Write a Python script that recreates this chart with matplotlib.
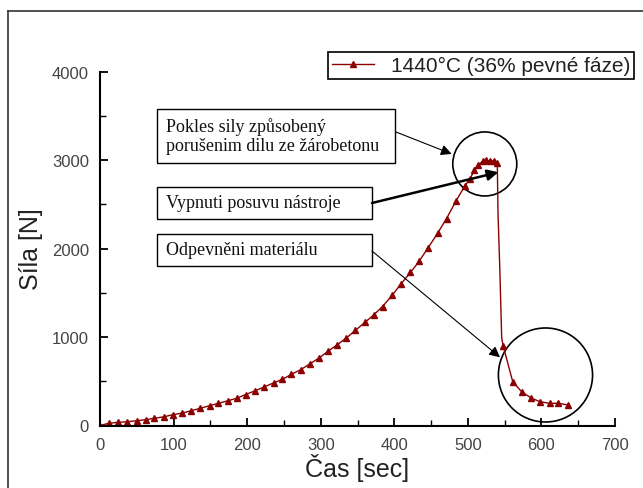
import numpy as np
import matplotlib
matplotlib.use("Agg")
import matplotlib.pyplot as plt
from matplotlib.lines import Line2D
from matplotlib.patches import Ellipse, Rectangle

plt.rcParams["font.family"] = ["Liberation Sans", "DejaVu Sans"]

# measured force vs. time, 1440 °C run (36 % solid phase)
cas = [0, 12, 25, 37, 50, 62, 74, 87, 99, 112, 124, 136, 149, 161, 174, 186,
       198, 211, 223, 236, 248, 260, 273, 285, 298, 310, 322, 335, 347, 360,
       372, 384, 397, 409, 422, 434, 446, 459, 471, 484, 496,
       503, 509, 514, 520, 525, 530, 535, 540,
       541, 543.5, 546,
       548, 561, 573, 586, 598, 611, 623, 636]
sila = [0, 25, 36, 43, 54, 66, 81, 99, 122, 141, 167, 194, 224, 251, 280, 308,
        350, 393, 435, 482, 522, 578, 632, 695, 765, 840, 910, 990, 1075, 1165,
        1250, 1345, 1470, 1600, 1730, 1860, 2010, 2175, 2340, 2540, 2710,
        2790, 2890, 2950, 2985, 3005, 2985, 2995, 2965,
        2400, 1750, 990,
        900, 495, 382, 311, 269, 251, 251, 232]
# samples on the sudden drop are drawn without a marker
bez_znacky = [49, 50, 51]
znacky = [i for i in range(len(cas)) if i not in bez_znacky]

popis = "1440°C (36% pevné fáze)"
texty = ["Pokles sily způsobený\nporušenim dilu ze žárobetonu",
         "Vypnuti posuvu nástroje",
         "Odpevněni materiálu"]

W, H = 643, 489
fig = plt.figure(figsize=(W / 100, H / 100), dpi=100)
ax = fig.add_axes([100 / W, 1 - 426.5 / H, 515 / W, 353.8 / H])

barva = "#8b0000"
ax.plot(cas, sila, color=barva, lw=1.0, marker="^", markersize=5,
        markevery=znacky)

ax.set_xlim(0, 700)
ax.set_ylim(0, 4000)
ax.set_xticks(np.arange(0, 701, 100))
ax.set_xticks(np.arange(0, 701, 50), minor=True)
ax.set_yticks(np.arange(0, 4001, 1000))
ax.set_yticks(np.arange(0, 4001, 500), minor=True)
ax.spines["top"].set_visible(False)
ax.spines["right"].set_visible(False)
for s in ("left", "bottom"):
    ax.spines[s].set_linewidth(1.5)
ax.tick_params(which="major", direction="in", length=6, width=1.3,
               labelsize=12, labelcolor="#444444", pad=8)
ax.tick_params(which="minor", direction="in", length=4, width=1.0)

ax.set_xlabel("Čas [sec]", fontsize=18, color="#222222", labelpad=1)
ax.set_ylabel("Síla [N]", fontsize=18, color="#222222", labelpad=6)

# legend with a plain black frame above the plot
proxy = Line2D([], [], color=barva, lw=1.0, marker="^", markersize=5)
leg = fig.legend([proxy], [popis], loc="upper left",
                 bbox_to_anchor=(328 / W, 1 - 53 / H), fontsize=15,
                 fancybox=False, framealpha=1, edgecolor="black",
                 borderpad=0.2, handlelength=2.0, handletextpad=0.8,
                 borderaxespad=0)
leg.get_frame().set_linewidth(1.2)
for t in leg.get_texts():
    t.set_color("#222222")


def fx(px):
    return px / W


def fy(py):
    return 1 - py / H


# annotation boxes (pixel layout, top-left origin)
boxy = [(157, 110, 395, 164), (157, 188, 372, 220), (157, 235, 372, 267)]
for (x0, y0, x1, y1), txt in zip(boxy, texty):
    fig.add_artist(Rectangle((fx(x0), fy(y1)), fx(x1) - fx(x0), fy(y0) - fy(y1),
                             transform=fig.transFigure, fill=False,
                             edgecolor="black", lw=1.0))
    fig.text(fx(x0 + 9), fy((y0 + y1) / 2), txt, transform=fig.transFigure,
             ha="left", va="center", fontsize=13, family="Liberation Serif",
             linespacing=1.15, color="#111111")

# arrows from the boxes to the curve
sipky = [((396, 133), (478, 3070), 0.8),
         ((372, 204), (541.5, 2863), 1.8),
         ((372, 252), (543.7, 771), 0.8)]
for (sx, sy), tip, lw in sipky:
    ax.annotate("", xy=tip, xycoords="data",
                xytext=(fx(sx), fy(sy)), textcoords="figure fraction",
                arrowprops=dict(arrowstyle="-|>", color="black", lw=lw,
                                mutation_scale=16, shrinkA=0, shrinkB=0),
                annotation_clip=False)

# circles around the peak and the softened tail
ax.add_patch(Ellipse((523, 2957), 87, 724, fill=False, edgecolor="black",
                     lw=1.2, clip_on=False))
ax.add_patch(Ellipse((605.5, 571), 128, 1063, fill=False, edgecolor="black",
                     lw=1.2, clip_on=False))

# outer frame
fig.add_artist(Line2D([fx(8), fx(8)], [fy(12), 0], transform=fig.transFigure,
                      color="#333333", lw=1.2))
fig.add_artist(Line2D([fx(8), 1], [fy(12), fy(12)], transform=fig.transFigure,
                      color="#333333", lw=1.2))

fig.savefig("out.png", dpi=100)
